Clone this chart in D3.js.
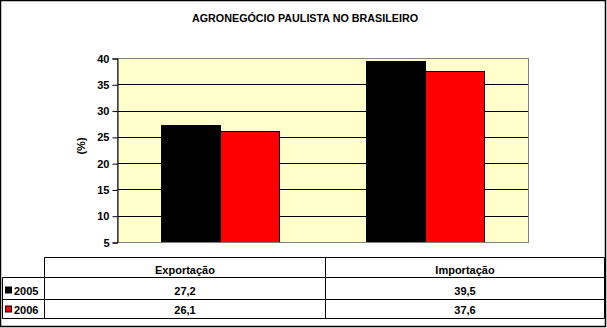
<!DOCTYPE html>
<html>
<head>
<meta charset="utf-8">
<script src="https://cdn.jsdelivr.net/npm/d3@7"></script>
<style>
  body { margin: 0; background: #fff; }
  text { font-family: Arial, "Liberation Sans", sans-serif; font-weight: bold; fill: #000; }
</style>
</head>
<body>
<div id="chart"></div>
<script>
// data
const categories = ['Exportação', 'Importação']
const years = ['2005', '2006']
const values2005 = [27.2, 39.5]
const values2006 = [26.1, 37.6]
const valueLabels2005 = ['27,2', '39,5']
const valueLabels2006 = ['26,1', '37,6']
const yTicks = [5, 10, 15, 20, 25, 30, 35, 40]
const seriesColors = ['#000000', '#ff0000']

const W = 607, H = 328

const svg = d3.select('#chart').append('svg')
    .attr('width', W)
    .attr('height', H)

// outer frame
svg.append('rect')
    .attr('x', 0.5).attr('y', 0.5)
    .attr('width', 605).attr('height', 326)
    .attr('fill', '#fff')
    .attr('stroke', '#000')
    .attr('stroke-width', 1.5)

svg.append('text')
    .attr('x', 305).attr('y', 22)
    .attr('text-anchor', 'middle')
    .attr('font-size', 11)
    .attr('textLength', 226)
    .attr('lengthAdjust', 'spacingAndGlyphs')
    .text('AGRONEGÓCIO PAULISTA NO BRASILEIRO')

const plot = { left: 117, right: 528, top: 58, bottom: 242 }

const y = d3.scaleLinear()
    .domain([5, 40])
    .range([plot.bottom, plot.top])

const x = d3.scaleBand()
    .domain(categories)
    .range([plot.left, plot.right])
    .paddingInner(0.426)
    .paddingOuter(0.213)

const xs = d3.scaleBand()
    .domain(years)
    .range([0, x.bandwidth()])

// plot background
svg.append('rect')
    .attr('x', plot.left).attr('y', plot.top)
    .attr('width', plot.right - plot.left)
    .attr('height', plot.bottom - plot.top)
    .attr('fill', '#ffffcc')

// gridlines
svg.append('g')
    .selectAll('line')
    .data(yTicks.filter(d => d > 5 && d < 40))
    .enter().append('line')
    .attr('x1', plot.left).attr('x2', plot.right)
    .attr('y1', d => Math.round(y(d)) + 0.5)
    .attr('y2', d => Math.round(y(d)) + 0.5)
    .attr('stroke', '#000')

// bars
const series = [values2005, values2006]
series.forEach((vals, i) => {
    svg.append('g')
        .selectAll('rect')
        .data(vals)
        .enter().append('rect')
        .attr('x', (d, j) => Math.round(x(categories[j]) + xs(years[i])) + 0.5)
        .attr('y', d => Math.round(y(d)) + 0.5)
        .attr('width', Math.round(xs.bandwidth()))
        .attr('height', d => Math.round(y(5)) - Math.round(y(d)))
        .attr('fill', seriesColors[i])
        .attr('stroke', '#000')
})

// plot border
svg.append('rect')
    .attr('x', plot.left + 0.5).attr('y', plot.top + 0.5)
    .attr('width', plot.right - plot.left)
    .attr('height', plot.bottom - plot.top)
    .attr('fill', 'none')
    .attr('stroke', '#808080')

// y axis
const yAxis = d3.axisLeft(y)
    .tickValues(yTicks)
    .tickSize(5)
    .tickPadding(3)
    .tickFormat(d3.format('d'))

const yAxisG = svg.append('g')
    .attr('transform', `translate(${plot.left + 0.5},0.5)`)
    .call(yAxis)
yAxisG.select('.domain').attr('stroke', '#000')
yAxisG.selectAll('.tick line').attr('stroke', '#000')
yAxisG.selectAll('.tick text')
    .attr('font-size', 11)
    .attr('font-family', 'Arial, "Liberation Sans", sans-serif')
    .attr('font-weight', 'bold')
    .attr('fill', '#000')

svg.append('text')
    .attr('transform', 'translate(85,146) rotate(-90)')
    .attr('text-anchor', 'middle')
    .attr('font-size', 11)
    .text('(%)')

// data table
const tbl = { left: 2.5, keyRight: 44.5, mid: 325.5, right: 604.5, rows: [257.5, 277.5, 299.5, 318.5] }
const colEdges = [tbl.keyRight, tbl.mid, tbl.right]
const lines = svg.append('g').attr('stroke', '#000').attr('stroke-width', 1)

lines.append('line').attr('x1', tbl.keyRight).attr('x2', tbl.right).attr('y1', tbl.rows[0]).attr('y2', tbl.rows[0])
tbl.rows.slice(1).forEach(r => {
    lines.append('line').attr('x1', tbl.left).attr('x2', tbl.right).attr('y1', r).attr('y2', r)
})
lines.append('line').attr('x1', tbl.left).attr('x2', tbl.left).attr('y1', tbl.rows[1]).attr('y2', tbl.rows[3])
colEdges.forEach(cx => {
    lines.append('line').attr('x1', cx).attr('x2', cx).attr('y1', tbl.rows[0]).attr('y2', tbl.rows[3])
})

categories.forEach((c, j) => {
    const cx = (colEdges[j] + colEdges[j + 1]) / 2
    svg.append('text')
        .attr('x', cx).attr('y', tbl.rows[1] - 4)
        .attr('text-anchor', 'middle')
        .attr('font-size', 11)
        .text(c)
})

const labelRows = [valueLabels2005, valueLabels2006]
years.forEach((yr, i) => {
    const base = tbl.rows[i + 2] - 5
    svg.append('rect')
        .attr('x', 5.5).attr('y', base - 7.5)
        .attr('width', 6).attr('height', 6)
        .attr('fill', seriesColors[i])
        .attr('stroke', '#000')
    svg.append('text')
        .attr('x', 14).attr('y', base)
        .attr('font-size', 11)
        .text(yr)
    labelRows[i].forEach((v, j) => {
        svg.append('text')
            .attr('x', (colEdges[j] + colEdges[j + 1]) / 2)
            .attr('y', base)
            .attr('text-anchor', 'middle')
            .attr('font-size', 11)
            .text(v)
    })
})
</script>
</body>
</html>
